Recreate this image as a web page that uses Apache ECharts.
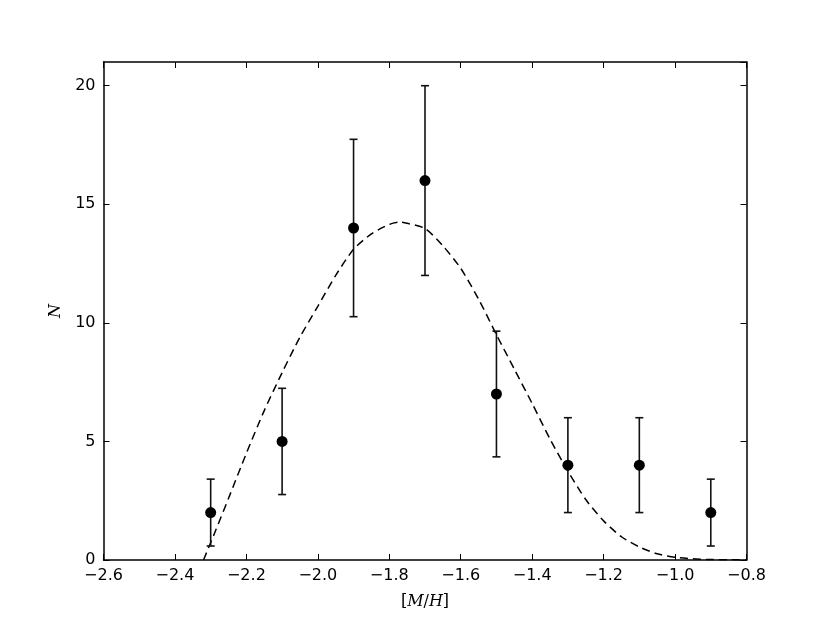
<!DOCTYPE html>
<html>
<head>
<meta charset="utf-8">
<script src="https://cdn.jsdelivr.net/npm/echarts@6/dist/echarts.min.js"></script>
<style>html,body{margin:0;padding:0;background:#fff}#c{width:830px;height:623px}</style>
</head>
<body>
<div id="c"></div>
<script>
// Observed points ([M/H] bins, counts) and their error bars
const binX = [-2.3, -2.1, -1.9, -1.7, -1.5, -1.3, -1.1, -0.9];
const counts = [2, 5, 14, 16, 7, 4, 4, 2];
const errLow = [1.41, 2.24, 3.74, 4.0, 2.65, 2.0, 2.0, 1.41];
const errHigh = [1.41, 2.24, 3.74, 4.0, 2.65, 2.0, 2.0, 1.41];

// Dashed model curve
const curveX = [-2.32, -2.29, -2.25, -2.2, -2.15, -2.1, -2.05, -2.0, -1.95, -1.9, -1.85, -1.8, -1.77, -1.75, -1.7, -1.65, -1.6, -1.55, -1.5, -1.45, -1.4, -1.35, -1.3, -1.25, -1.2, -1.15, -1.1, -1.05, -1.0, -0.95, -0.9, -0.85, -0.8];
const curveY = [0, 1.1, 2.6, 4.5, 6.3, 7.9, 9.4, 10.7, 12.0, 13.1, 13.75, 14.15, 14.25, 14.2, 13.98, 13.25, 12.3, 11.0, 9.5, 8.05, 6.6, 5.1, 3.75, 2.55, 1.65, 0.98, 0.55, 0.26, 0.12, 0.05, 0.02, 0.01, 0.0];

// Axis ranges / ticks
const xMin = -2.6, xMax = -0.8, xStep = 0.2;
const yMin = 0, yMax = 21, yStep = 5;

const chart = echarts.init(document.getElementById('c'), null, {renderer: 'canvas'});
const fmtX = v => (Math.round(v * 10) / 10).toFixed(1).replace('-', '\u2212');
const tickFont = {fontFamily: 'DejaVu Sans', fontSize: 16, color: '#000'};

const axisCommon = {
  axisLine: {show: true, onZero: false, lineStyle: {color: '#000', width: 1.5}},
  axisTick: {show: true, inside: true, length: 6, lineStyle: {color: '#000', width: 1}},
  splitLine: {show: false}
};

const option = {
  backgroundColor: '#fff',
  animation: false,
  grid: {left: 103.5, right: 83.5, top: 62, bottom: 63, containLabel: false},
  xAxis: [
    Object.assign({
      type: 'value', min: xMin, max: xMax, interval: xStep, position: 'bottom',
      axisLabel: Object.assign({formatter: fmtX, margin: 8}, tickFont),
      name: '{b|[}{i|M}{b|/}{i|H}{b|]}', nameLocation: 'middle', nameGap: 34,
      nameTextStyle: {rich: {
        b: {fontFamily: 'DejaVu Serif', fontSize: 16, color: '#000'},
        i: {fontFamily: 'DejaVu Serif', fontStyle: 'italic', fontSize: 16, color: '#000'}
      }}
    }, axisCommon),
    Object.assign({
      type: 'value', min: xMin, max: xMax, interval: xStep, position: 'top',
      axisLabel: {show: false}
    }, axisCommon)
  ],
  yAxis: [
    Object.assign({
      type: 'value', min: yMin, max: yMax, interval: yStep, position: 'left',
      axisLabel: Object.assign({margin: 8, showMaxLabel: false}, tickFont),
      name: 'N', nameLocation: 'middle', nameGap: 38, nameRotate: 90,
      nameTextStyle: {fontFamily: 'DejaVu Serif', fontStyle: 'italic', fontSize: 16, color: '#000'}
    }, axisCommon),
    Object.assign({
      type: 'value', min: yMin, max: yMax, interval: yStep, position: 'right',
      axisLabel: {show: false}
    }, axisCommon)
  ],
  series: [
    {
      type: 'line',
      data: curveX.map((x, i) => [x, curveY[i]]),
      showSymbol: false,
      smooth: 0.25,
      lineStyle: {color: '#000', width: 1.5, type: [8, 5]},
      z: 2
    },
    {
      type: 'custom',
      data: binX.map((x, i) => [x, counts[i] - errLow[i], counts[i] + errHigh[i]]),
      renderItem: function (params, api) {
        const x = api.value(0);
        const lo = api.coord([x, api.value(1)]);
        const hi = api.coord([x, api.value(2)]);
        const hw = 4;
        const st = {stroke: '#111', lineWidth: 1.6};
        return {
          type: 'group',
          children: [
            {type: 'line', shape: {x1: lo[0], y1: lo[1], x2: hi[0], y2: hi[1]}, style: st},
            {type: 'line', shape: {x1: lo[0] - hw, y1: lo[1], x2: lo[0] + hw, y2: lo[1]}, style: st},
            {type: 'line', shape: {x1: hi[0] - hw, y1: hi[1], x2: hi[0] + hw, y2: hi[1]}, style: st}
          ]
        };
      },
      z: 3
    },
    {
      type: 'scatter',
      data: binX.map((x, i) => [x, counts[i]]),
      symbol: 'circle',
      symbolSize: 11,
      itemStyle: {color: '#000', opacity: 1},
      z: 4
    }
  ]
};
chart.setOption(option);
</script>
</body>
</html>
